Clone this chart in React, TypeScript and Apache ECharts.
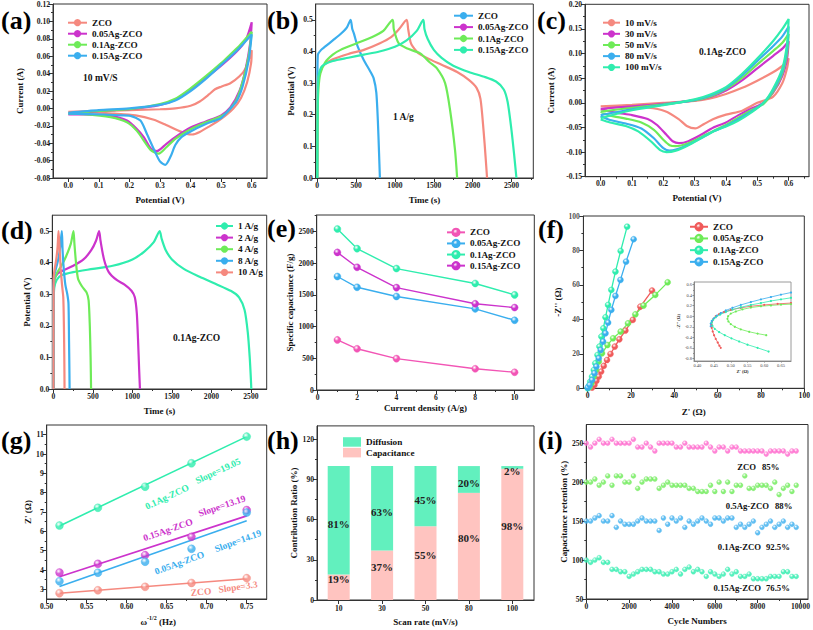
import React, { useEffect, useRef } from "react";
import * as echarts from "echarts";

const FONT = '"Liberation Serif", "Times New Roman", serif';

const SALMON = "#F5897F";
const MAGENTA = "#CC33CC";
const GREEN = "#6EEB58";
const BLUE = "#3AAEEE";
const TEAL = "#2FEDAE";
const PINK = "#F255B5";
const RED = "#F05A5A";
const DIFF = "#62F0BE";
const CAPA = "#FFC4C0";

// ---------- (a) CV at 10 mV/s ----------
const aTicksX = [0, 0.1, 0.2, 0.3, 0.4, 0.5, 0.6];
const aTicksY = [-0.08, -0.06, -0.04, -0.02, 0, 0.02, 0.04, 0.06, 0.08, 0.1, 0.12];
const aZCO = [[0,-0.004],[0.1,-0.003],[0.2,-0.002],[0.3,-0.001],[0.35,0.0],[0.4,0.003],[0.43,0.008],[0.46,0.016],[0.48,0.022],[0.5,0.025],[0.53,0.029],[0.56,0.037],[0.58,0.046],[0.6,0.067],[0.598,0.052],[0.585,0.03],[0.565,0.012],[0.54,0.0],[0.5,-0.012],[0.46,-0.021],[0.43,-0.027],[0.405,-0.03],[0.385,-0.029],[0.37,-0.027],[0.35,-0.024],[0.32,-0.019],[0.28,-0.013],[0.22,-0.008],[0.15,-0.006],[0.05,-0.004],[0,-0.004]];
const a005 = [[0,-0.007],[0.05,-0.005],[0.1,-0.003],[0.2,-0.001],[0.25,0.001],[0.3,0.004],[0.35,0.01],[0.4,0.022],[0.45,0.035],[0.5,0.049],[0.55,0.065],[0.58,0.078],[0.6,0.099],[0.595,0.075],[0.58,0.045],[0.56,0.02],[0.53,0.001],[0.5,-0.008],[0.45,-0.015],[0.4,-0.022],[0.35,-0.033],[0.32,-0.041],[0.29,-0.049],[0.27,-0.046],[0.247,-0.033],[0.225,-0.024],[0.192,-0.014],[0.138,-0.0085],[0.05,-0.007],[0,-0.007]];
const a01 = [[0,-0.006],[0.1,-0.003],[0.2,-0.001],[0.3,0.005],[0.35,0.011],[0.4,0.023],[0.45,0.037],[0.5,0.052],[0.53,0.062],[0.56,0.072],[0.6,0.088],[0.59,0.06],[0.57,0.03],[0.55,0.01],[0.52,-0.004],[0.5,-0.009],[0.45,-0.016],[0.4,-0.024],[0.35,-0.035],[0.32,-0.045],[0.296,-0.052],[0.27,-0.048],[0.247,-0.037],[0.225,-0.026],[0.192,-0.016],[0.138,-0.01],[0.05,-0.0065],[0,-0.006]];
const a015 = [[0,-0.005],[0.1,-0.002],[0.2,0.0],[0.3,0.004],[0.35,0.009],[0.4,0.02],[0.45,0.034],[0.5,0.05],[0.55,0.066],[0.6,0.085],[0.59,0.055],[0.57,0.025],[0.55,0.008],[0.52,-0.004],[0.5,-0.011],[0.45,-0.018],[0.4,-0.0265],[0.37,-0.033],[0.35,-0.042],[0.335,-0.055],[0.317,-0.065],[0.3,-0.061],[0.28,-0.047],[0.258,-0.03],[0.236,-0.014],[0.203,-0.0085],[0.17,-0.008],[0.12,-0.007],[0,-0.006]];

// ---------- (b) GCD at 1 A/g ----------
const bTicksX = [0, 500, 1000, 1500, 2000, 2500];
const bTicksY = [0, 0.1, 0.2, 0.3, 0.4, 0.5];
const bZCO = [[0,0],[3,0.33],[8,0.39],[50,0.405],[100,0.415],[200,0.435],[300,0.455],[380,0.475],[430,0.5],[450,0.472],[470,0.458],[521,0.415],[598,0.373],[684,0.336],[726,0.315],[760,0.27],[780,0.18],[795,0.08],[806,0]];
const b005 = [[0,0],[3,0.25],[10,0.31],[50,0.345],[100,0.36],[200,0.375],[400,0.392],[600,0.405],[800,0.425],[950,0.445],[1050,0.47],[1150,0.5],[1170,0.47],[1200,0.43],[1230,0.415],[1300,0.395],[1450,0.375],[1600,0.358],[1800,0.335],[1950,0.31],[2050,0.285],[2100,0.25],[2140,0.15],[2165,0.07],[2185,0]];
const b01 = [[0,0],[5,0.2],[15,0.28],[40,0.33],[100,0.365],[200,0.39],[300,0.405],[500,0.425],[700,0.445],[850,0.465],[970,0.5],[985,0.47],[1047,0.426],[1150,0.41],[1325,0.394],[1450,0.365],[1538,0.347],[1645,0.3],[1709,0.215],[1773,0.088],[1800,0]];
const b015 = [[0,0],[5,0.25],[15,0.32],[50,0.35],[100,0.36],[200,0.37],[400,0.38],[600,0.39],[800,0.4],[1000,0.415],[1150,0.435],[1280,0.465],[1365,0.5],[1380,0.47],[1420,0.44],[1500,0.405],[1600,0.38],[1750,0.355],[1950,0.335],[2150,0.32],[2300,0.305],[2400,0.28],[2450,0.24],[2500,0.15],[2535,0.07],[2563,0]];

// ---------- (c) CV of 0.1Ag-ZCO ----------
const cTicksX = [0, 0.1, 0.2, 0.3, 0.4, 0.5, 0.6];
const cTicksY = [-0.15, -0.1, -0.05, 0, 0.05, 0.1, 0.15, 0.2];
const c10 = [[0,-0.007],[0.1,-0.004],[0.2,0.0],[0.3,0.004],[0.35,0.009],[0.4,0.018],[0.45,0.03],[0.5,0.045],[0.55,0.062],[0.58,0.075],[0.6,0.09],[0.595,0.07],[0.58,0.04],[0.55,0.012],[0.5,0.0],[0.452,-0.016],[0.4,-0.024],[0.36,-0.033],[0.33,-0.043],[0.302,-0.052],[0.275,-0.047],[0.249,-0.033],[0.206,-0.017],[0.152,-0.01],[0.05,-0.008],[0,-0.007]];
const c30 = [[0,-0.012],[0.1,-0.007],[0.2,-0.002],[0.3,0.005],[0.35,0.012],[0.4,0.025],[0.45,0.045],[0.5,0.07],[0.55,0.095],[0.58,0.11],[0.6,0.125],[0.595,0.09],[0.58,0.055],[0.55,0.02],[0.52,0.0],[0.48,-0.012],[0.44,-0.025],[0.4,-0.04],[0.36,-0.05],[0.32,-0.065],[0.28,-0.078],[0.25,-0.082],[0.23,-0.078],[0.21,-0.065],[0.18,-0.045],[0.15,-0.033],[0.1,-0.025],[0.05,-0.02],[0,-0.013]];
const c50 = [[0,-0.018],[0.1,-0.01],[0.2,-0.003],[0.3,0.005],[0.35,0.013],[0.4,0.028],[0.45,0.05],[0.5,0.078],[0.55,0.105],[0.58,0.122],[0.6,0.14],[0.595,0.1],[0.58,0.06],[0.55,0.022],[0.52,-0.002],[0.48,-0.015],[0.44,-0.03],[0.4,-0.045],[0.36,-0.057],[0.32,-0.07],[0.28,-0.082],[0.24,-0.088],[0.22,-0.086],[0.2,-0.075],[0.17,-0.055],[0.13,-0.04],[0.08,-0.032],[0.03,-0.026],[0,-0.018]];
const c80 = [[0,-0.025],[0.1,-0.013],[0.2,-0.004],[0.3,0.006],[0.35,0.015],[0.4,0.03],[0.45,0.055],[0.5,0.085],[0.55,0.115],[0.58,0.135],[0.6,0.155],[0.595,0.11],[0.58,0.065],[0.55,0.025],[0.52,0.0],[0.48,-0.018],[0.44,-0.033],[0.4,-0.047],[0.36,-0.058],[0.32,-0.072],[0.28,-0.085],[0.24,-0.095],[0.22,-0.097],[0.2,-0.092],[0.17,-0.072],[0.13,-0.052],[0.08,-0.042],[0.03,-0.035],[0,-0.027]];
const c100 = [[0,-0.031],[0.1,-0.015],[0.2,-0.005],[0.3,0.007],[0.35,0.017],[0.4,0.032],[0.45,0.058],[0.5,0.09],[0.55,0.125],[0.58,0.15],[0.6,0.17],[0.595,0.12],[0.58,0.07],[0.55,0.028],[0.52,0.0],[0.48,-0.02],[0.44,-0.036],[0.4,-0.048],[0.36,-0.058],[0.32,-0.072],[0.28,-0.086],[0.24,-0.097],[0.21,-0.1],[0.19,-0.096],[0.16,-0.078],[0.12,-0.058],[0.08,-0.047],[0.03,-0.04],[0,-0.034]];

// ---------- (d) GCD of 0.1Ag-ZCO ----------
const dTicksX = [0, 500, 1000, 1500, 2000, 2500];
const dTicksY = [0, 0.1, 0.2, 0.3, 0.4, 0.5];
const d1 = [[0,0],[3,0.28],[10,0.32],[40,0.345],[100,0.36],[250,0.37],[500,0.38],[750,0.39],[1000,0.41],[1150,0.435],[1270,0.465],[1345,0.5],[1370,0.475],[1420,0.44],[1500,0.41],[1650,0.38],[1850,0.355],[2050,0.333],[2250,0.31],[2350,0.29],[2420,0.25],[2460,0.18],[2485,0.1],[2500,0.03],[2505,0]];
const d2 = [[0,0],[2,0.3],[10,0.345],[50,0.365],[120,0.375],[250,0.39],[380,0.41],[480,0.44],[540,0.47],[578,0.5],[595,0.47],[640,0.41],[700,0.37],[800,0.345],[900,0.33],[990,0.31],[1030,0.29],[1055,0.24],[1070,0.16],[1085,0.06],[1095,0]];
const d4 = [[0,0],[2,0.29],[10,0.34],[40,0.365],[100,0.39],[160,0.42],[220,0.46],[253,0.5],[265,0.46],[285,0.4],[310,0.35],[360,0.325],[420,0.305],[445,0.28],[460,0.2],[470,0.1],[476,0]];
const d8 = [[0,0],[2,0.32],[10,0.36],[30,0.38],[60,0.41],[85,0.45],[106,0.5],[115,0.44],[130,0.38],[150,0.33],[175,0.3],[190,0.27],[197,0.15],[202,0.05],[204,0]];
const d10 = [[0,0],[2,0.35],[15,0.38],[35,0.41],[52,0.45],[64,0.5],[76,0.45],[92,0.38],[108,0.33],[124,0.29],[132,0.2],[137,0.1],[140,0]];

// ---------- (e) specific capacitance ----------
const eTicksX = [0, 2, 4, 6, 8, 10];
const eTicksY = [0, 500, 1000, 1500, 2000, 2500];
const eDensity = [1, 2, 4, 8, 10];
const eZCO = [790, 650, 495, 335, 280];
const e005 = [1790, 1620, 1475, 1280, 1100];
const e01 = [2540, 2230, 1915, 1680, 1500];
const e015 = [2170, 1935, 1615, 1360, 1300];

// ---------- (f) Nyquist ----------
const fTicksX = [0, 20, 40, 60, 80, 100];
const fTicksY = [0, 20, 40, 60, 80, 100];
const fZCO = [[2,0.4],[3.1,1.9],[4,4.3],[5.1,6.8],[6.2,9.7],[7.4,13],[8.9,16.4],[10.5,19.9],[12.5,24.2],[14.6,28.4],[17.4,33.5],[20.8,39.7],[24.3,47.4],[29.7,56.7]];
const f005 = [[0.8,0.6],[1.7,2.9],[2.8,6.8],[3.8,10.6],[5.1,15.5],[6.6,20.3],[9.1,25.1],[11.7,29],[15.2,32.9],[18.6,37.7],[22,42.9],[25.8,48],[31.2,54.2],[36.9,61.5]];
const f01 = [[0,0],[0.5,1.4],[1.2,3.9],[2,6.8],[2.8,10.6],[3.5,14.5],[4.5,19.3],[5.4,24.2],[6.3,30],[7.2,34.8],[8.2,41.2],[9.4,48.4],[10.9,57.1],[12.8,67.7],[15.2,79.7],[18.2,93.8]];
const f015 = [[0,0.4],[0.9,1.9],[2,4.8],[3.1,8.7],[4,12.6],[5.1,17.4],[6,22.2],[7.1,27.1],[8.2,31.9],[9.4,38.1],[10.9,45.5],[12.8,53.6],[15.1,62.9],[17.7,73.5],[21.2,86.5]];
// inset
const fiTicksX = [0.4, 0.45, 0.5, 0.55, 0.6, 0.65];
const fiTicksY = [-0.8, -0.6, -0.4, -0.2, 0, 0.2, 0.4, 0.6];
const fiZCO = [[0.68,0.25],[0.64,0.235],[0.6,0.215],[0.56,0.19],[0.53,0.16],[0.5,0.12],[0.48,0.08],[0.465,0.04],[0.455,0.0],[0.448,-0.05],[0.444,-0.1],[0.442,-0.16],[0.443,-0.22],[0.446,-0.29],[0.45,-0.36],[0.455,-0.43],[0.461,-0.5],[0.466,-0.56],[0.47,-0.6]];
const fi005 = [[0.68,0.23],[0.65,0.22],[0.62,0.205],[0.59,0.19],[0.56,0.165],[0.535,0.13],[0.515,0.09],[0.5,0.05],[0.492,0.0],[0.49,-0.05],[0.493,-0.1],[0.5,-0.15],[0.512,-0.2],[0.53,-0.25],[0.555,-0.295],[0.58,-0.33],[0.606,-0.36]];
const fi01 = [[0.68,0.35],[0.65,0.32],[0.62,0.29],[0.59,0.25],[0.56,0.215],[0.53,0.17],[0.505,0.125],[0.485,0.08],[0.468,0.03],[0.455,-0.02],[0.447,-0.07],[0.443,-0.12],[0.445,-0.18],[0.452,-0.24],[0.465,-0.3],[0.482,-0.36],[0.502,-0.42],[0.525,-0.48],[0.55,-0.54],[0.58,-0.6],[0.613,-0.67]];
const fi015 = [[0.68,0.45],[0.65,0.41],[0.62,0.365],[0.59,0.32],[0.56,0.27],[0.53,0.215],[0.505,0.16],[0.485,0.11],[0.47,0.06],[0.458,0.01],[0.449,-0.04],[0.443,-0.09],[0.44,-0.14],[0.44,-0.19]];

// ---------- (g) Z' vs w^-1/2 ----------
const gTicksX = [0.5, 0.55, 0.6, 0.65, 0.7, 0.75];
const gTicksY = [3, 4, 5, 6, 7, 8, 9, 10, 11];
const gOmega = [0.516, 0.564, 0.623, 0.681, 0.75];
const g01 = [6.3, 7.22, 8.31, 9.52, 10.9];
const g015 = [3.87, 4.32, 4.77, 5.72, 7.1];
const g005 = [3.42, 3.86, 4.43, 5.1, 6.97];
const gZCO = [2.8, 2.95, 3.13, 3.33, 3.58];
const gFitOmega = [0.516, 0.75];
const gFit01 = [6.28, 10.9];
const gFit015 = [3.65, 6.8];
const gFit005 = [3.15, 6.55];
const gFitZCO = [2.8, 3.55];

// ---------- (h) contribution ratio ----------
const hRates = ["10", "30", "50", "80", "100"];
const hTicksY = [0, 30, 60, 90, 120];
const hCapacitance = [19, 37, 55, 80, 98];
const hDiffusion = [81, 63, 45, 20, 2];

// ---------- (i) cycling ----------
const iTicksX = [0, 2000, 4000, 6000, 8000, 10000];
const iTicksY = [50, 100, 150, 200, 250];
const iCycles = [0,200,400,600,800,1000,1200,1400,1600,1800,2000,2200,2400,2600,2800,3000,3200,3400,3600,3800,4000,4200,4400,4600,4800,5000,5200,5400,5600,5800,6000,6200,6400,6600,6800,7000,7200,7400,7600,7800,8000,8200,8400,8600,8800,9000,9200,9400,9600,9800];
const iZCO = [250,245,250,255,250,250,255,250,250,250,250,255,245,245,250,245,240,250,250,250,250,245,245,250,245,245,245,245,250,245,240,245,245,240,245,245,240,240,240,240,240,240,236,240,240,240,240,236,240,240];
const i05 = [200,200,204,196,200,208,196,208,208,200,200,208,192,200,204,204,204,192,196,200,196,196,196,196,192,192,188,188,188,196,188,200,188,200,188,196,196,208,192,192,196,196,196,192,200,184,192,196,188,196];
const i01 = [150,150,154,157,150,150,157,142,150,146,146,146,150,154,150,150,150,138,154,146,154,150,154,142,150,146,150,154,150,146,154,154,150,154,154,142,146,142,146,150,135,142,146,150,142,146,150,142,146,142];
const i015 = [100,97,100,103,97,97,88,88,85,85,79,82,85,88,88,88,85,85,82,82,85,88,82,88,91,85,88,85,79,85,82,79,82,88,82,85,79,79,82,76,76,76,76,79,79,79,85,85,79,79];

const AX = "#333";
const tickFont = { fontFamily: FONT, fontWeight: "bold", fontSize: 7.6, color: "#1a1a1a" };
const nameFont = { fontFamily: FONT, fontWeight: "bold", fontSize: 9, color: "#111" };

function minorsOf(majors: number[], min: number, max: number) {
  const out: number[] = [];
  for (let i = 0; i < majors.length - 1; i++) out.push((majors[i] + majors[i + 1]) / 2);
  const step = majors[1] - majors[0];
  const lo = majors[0] - step / 2;
  const hi = majors[majors.length - 1] + step / 2;
  if (lo > min + 1e-9) out.unshift(lo);
  if (hi < max - 1e-9) out.push(hi);
  return out;
}

function ball(c: string) {
  return {
    type: "radial", x: 0.38, y: 0.32, r: 0.75,
    colorStops: [{ offset: 0, color: "#ffffff" }, { offset: 0.45, color: c }, { offset: 1, color: c }],
  };
}

const txt = (text: string, x: number, y: number, color = "#111", size = 9.5, rotDeg = 0, align = "left") => ({
  type: "text", x, y, rotation: (rotDeg * Math.PI) / 180, silent: true, z: 100,
  style: { text, fill: color, fontFamily: FONT, fontWeight: "bold", fontSize: size, align, verticalAlign: "middle", textAlign: align, textVerticalAlign: "middle" },
});

function buildOption() {
  const grid: any[] = [];
  const xAxis: any[] = [];
  const yAxis: any[] = [];
  const series: any[] = [];
  const legend: any[] = [];
  const graphic: any[] = [];

  const addGrid = (left: number, top: number, width: number, height: number, extra: any = {}) => {
    grid.push({ left, top, width, height, show: true, borderColor: AX, borderWidth: 1, backgroundColor: "transparent", ...extra });
    return grid.length - 1;
  };

  const addAxis = (list: any[], gi: number, dim: "x" | "y", cfg: any) => {
    const pos = dim === "x" ? "bottom" : "left";
    const col = cfg.color || AX;
    list.push({
      type: "value", gridIndex: gi, min: cfg.min, max: cfg.max, position: pos,
      name: cfg.name, nameLocation: "middle", nameGap: cfg.nameGap,
      nameTextStyle: { ...nameFont, ...(cfg.nameStyle || {}) },
      axisLine: { show: true, onZero: false, lineStyle: { color: col, width: 1 } },
      axisTick: { show: true, inside: false, length: cfg.tickLen ?? 4, customValues: cfg.majors.slice(), lineStyle: { color: col, width: 1 } },
      axisLabel: cfg.noLabels ? { show: false } : {
        show: true, customValues: cfg.majors.slice(), formatter: cfg.fmt, margin: cfg.margin ?? 3,
        hideOverlap: false, showMinLabel: true, showMaxLabel: true,
        ...tickFont, ...(cfg.labelStyle || {}),
      },
      splitLine: { show: false },
      silent: true,
    });
    const idx = list.length - 1;
    const minors = minorsOf(cfg.majors, cfg.min, cfg.max);
    list.push({
      type: "value", gridIndex: gi, min: cfg.min, max: cfg.max, position: pos,
      axisLine: { show: false, onZero: false },
      axisTick: { show: true, inside: false, length: cfg.minorLen ?? 2, customValues: minors, lineStyle: { color: col, width: 1 } },
      axisLabel: { show: false },
      splitLine: { show: false },
      silent: true,
    });
    return idx;
  };

  const curve = (name: string, xi: number, yi: number, data: number[][], color: string, width = 2.2) => ({
    type: "line", name, xAxisIndex: xi, yAxisIndex: yi, data, symbol: "none", showSymbol: false,
    smooth: 0.25, lineStyle: { color, width }, itemStyle: { color }, silent: true,
  });

  const dotted = (name: string, xi: number, yi: number, data: number[][], color: string, size: number, width: number) => ({
    type: "line", name, xAxisIndex: xi, yAxisIndex: yi, data, symbol: "circle", symbolSize: size, showSymbol: true,
    lineStyle: { color, width }, itemStyle: { color: ball(color), borderColor: color, borderWidth: 0.4 }, silent: true,
  });

  const mkLegend = (left: number, top: number, pitch: number, itemWidth: number, data: any[], extra: any = {}) => ({
    show: true, left, top, orient: "vertical", padding: 0, itemGap: 0, itemWidth, itemHeight: 9,
    selectedMode: false, data,
    formatter: (n: string) => n.slice(n.indexOf("|") + 1),
    textStyle: { fontFamily: FONT, fontWeight: "bold", fontSize: 9.2, color: "#111", lineHeight: pitch },
    ...extra,
  });

  const panelLabel = (text: string, x: number, y: number) => ({
    type: "text", x, y, silent: true, z: 50,
    style: { text, fill: "#000", fontFamily: FONT, fontWeight: "bold", fontSize: 26, align: "left", verticalAlign: "top", textAlign: "left", textVerticalAlign: "top" },
  });

  const f0 = (v: number) => String(Math.round(v));
  const f1 = (v: number) => v.toFixed(1);
  const f2 = (v: number) => v.toFixed(2);

  // ===== (a) =====
  const gA = addGrid(53, 4, 214, 174);
  const xA = addAxis(xAxis, gA, "x", { min: -0.05, max: 0.65, majors: aTicksX, fmt: f1, name: "Potential (V)", nameGap: 17 });
  const yA = addAxis(yAxis, gA, "y", { min: -0.08, max: 0.12, majors: aTicksY, fmt: f2, name: "Current (A)", nameGap: 29 });
  series.push(curve("a|ZCO", xA, yA, aZCO, SALMON));
  series.push(curve("a|0.05Ag-ZCO", xA, yA, a005, MAGENTA));
  series.push(curve("a|0.1Ag-ZCO", xA, yA, a01, GREEN));
  series.push(curve("a|0.15Ag-ZCO", xA, yA, a015, BLUE));
  legend.push(mkLegend(67, 17.2, 11, 19, ["a|ZCO", "a|0.05Ag-ZCO", "a|0.1Ag-ZCO", "a|0.15Ag-ZCO"]));
  graphic.push(txt("10 mV/S", 83, 78));

  // ===== (b) =====
  const gB = addGrid(315.7, 4, 217.6, 174);
  const xB = addAxis(xAxis, gB, "x", { min: -20, max: 2780, majors: bTicksX, fmt: f0, name: "Time (s)", nameGap: 17 });
  const yB = addAxis(yAxis, gB, "y", { min: 0, max: 0.55, majors: bTicksY, fmt: f1, name: "Potential (V)", nameGap: 20 });
  series.push(curve("b|ZCO", xB, yB, bZCO, BLUE));
  series.push(curve("b|0.05Ag-ZCO", xB, yB, b005, SALMON));
  series.push(curve("b|0.1Ag-ZCO", xB, yB, b01, GREEN));
  series.push(curve("b|0.15Ag-ZCO", xB, yB, b015, TEAL));
  legend.push(mkLegend(453, 10, 11.4, 19, [
    "b|ZCO",
    { name: "b|0.05Ag-ZCO", itemStyle: { color: MAGENTA }, lineStyle: { color: MAGENTA } },
    "b|0.1Ag-ZCO",
    "b|0.15Ag-ZCO",
  ]));
  graphic.push(txt("1 A/g", 393, 117));

  // ===== (c) =====
  const gC = addGrid(585, 4.3, 224, 172.4);
  const xC = addAxis(xAxis, gC, "x", { min: -0.05, max: 0.665, majors: cTicksX, fmt: f1, name: "Potential (V)", nameGap: 17 });
  const yC = addAxis(yAxis, gC, "y", { min: -0.15, max: 0.2, majors: cTicksY, fmt: f2, name: "Current (A)", nameGap: 30 });
  series.push(curve("c|10 mV/s", xC, yC, c10, SALMON));
  series.push(curve("c|30 mV/s", xC, yC, c30, MAGENTA));
  series.push(curve("c|50 mV/s", xC, yC, c50, GREEN));
  series.push(curve("c|80 mV/s", xC, yC, c80, BLUE));
  series.push(curve("c|100 mV/s", xC, yC, c100, TEAL));
  legend.push(mkLegend(602, 17.1, 11.15, 17, ["c|10 mV/s", "c|30 mV/s", "c|50 mV/s", "c|80 mV/s", "c|100 mV/s"]));
  graphic.push(txt("0.1Ag-ZCO", 699, 52));

  // ===== (d) =====
  const gD = addGrid(52.3, 215.2, 214.4, 173.8);
  const xD = addAxis(xAxis, gD, "x", { min: -15, max: 2700, majors: dTicksX, fmt: f0, name: "Time (s)", nameGap: 17 });
  const yD = addAxis(yAxis, gD, "y", { min: 0, max: 0.55, majors: dTicksY, fmt: f1, name: "Potential (V)", nameGap: 21 });
  series.push(curve("d|1 A/g", xD, yD, d1, TEAL));
  series.push(curve("d|2 A/g", xD, yD, d2, MAGENTA));
  series.push(curve("d|4 A/g", xD, yD, d4, GREEN));
  series.push(curve("d|8 A/g", xD, yD, d8, BLUE));
  series.push(curve("d|10 A/g", xD, yD, d10, SALMON));
  legend.push(mkLegend(215, 220.2, 11.6, 17, ["d|1 A/g", "d|2 A/g", "d|4 A/g", "d|8 A/g", "d|10 A/g"]));
  graphic.push(txt("0.1Ag-ZCO", 173, 338));

  // ===== (e) =====
  const gE = addGrid(316.7, 215, 217.6, 175);
  const xE = addAxis(xAxis, gE, "x", { min: -0.05, max: 11, majors: eTicksX, fmt: f0, name: "Current density (A/g)", nameGap: 13 });
  const yE = addAxis(yAxis, gE, "y", { min: 0, max: 2760, majors: eTicksY, fmt: f0, name: "Specific capacitance (F/g)", nameGap: 21 });
  const zipE = (ys: number[]) => eDensity.map((x, k) => [x, ys[k]]);
  series.push(dotted("e|ZCO", xE, yE, zipE(eZCO), PINK, 7, 1.4));
  series.push(dotted("e|0.05Ag-ZCO", xE, yE, zipE(e005), BLUE, 7, 1.4));
  series.push(dotted("e|0.1Ag-ZCO", xE, yE, zipE(e01), TEAL, 7, 1.4));
  series.push(dotted("e|0.15Ag-ZCO", xE, yE, zipE(e015), MAGENTA, 7, 1.4));
  legend.push(mkLegend(446, 226.8, 11.1, 18, ["e|ZCO", "e|0.05Ag-ZCO", "e|0.1Ag-ZCO", "e|0.15Ag-ZCO"]));

  // ===== (f) =====
  const FXMIN = -2;
  const gF = addGrid(583.4, 216, 221.6, 172.3);
  const xF = addAxis(xAxis, gF, "x", { min: FXMIN, max: 100, majors: fTicksX, fmt: f0, name: "Z' (Ω)", nameGap: 19 });
  const yF = addAxis(yAxis, gF, "y", { min: 0, max: 100, majors: fTicksY, fmt: f0, name: "-Z'' (Ω)", nameGap: 21, noLabels: true });
  // y tick labels of (f) carried by label-only points on the y axis line
  series.push({
    type: "scatter", name: "fticks", xAxisIndex: xF, yAxisIndex: yF,
    data: fTicksY.map((v) => [FXMIN, v]), symbol: "circle", symbolSize: 1,
    itemStyle: { color: "rgba(0,0,0,0)" }, clip: false, silent: true, z: 20,
    label: { show: true, position: "left", distance: 3, formatter: (p: any) => String(p.value[1]), ...tickFont },
  });
  series.push(dotted("f|ZCO", xF, yF, fZCO, RED, 6, 1.3));
  series.push(dotted("f|0.05Ag-ZCO", xF, yF, f005, GREEN, 6, 1.3));
  series.push(dotted("f|0.1Ag-ZCO", xF, yF, f01, TEAL, 6, 1.3));
  series.push(dotted("f|0.15Ag-ZCO", xF, yF, f015, BLUE, 6, 1.3));
  legend.push(mkLegend(689, 220.9, 11.7, 18, ["f|ZCO", "f|0.05Ag-ZCO", "f|0.1Ag-ZCO", "f|0.15Ag-ZCO"]));
  // inset
  const gFi = addGrid(694, 282, 97, 79, { borderColor: "#9a9a9a", backgroundColor: "#ffffff" });
  const smallLab = { fontSize: 4.5, fontWeight: "normal", color: "#444" };
  const smallName = { fontSize: 4.6, fontWeight: "bold", color: "#333" };
  const xFi = addAxis(xAxis, gFi, "x", { min: 0.39, max: 0.68, majors: fiTicksX, fmt: f2, name: "Z' (Ω)", nameGap: 8, color: "#888", tickLen: 1.5, minorLen: 1, margin: 2, labelStyle: smallLab, nameStyle: smallName });
  const yFi = addAxis(yAxis, gFi, "y", { min: -0.85, max: 0.65, majors: fiTicksY, fmt: f1, name: "-Z'' (Ω)", nameGap: 9, color: "#888", tickLen: 1.5, minorLen: 1, margin: 2, labelStyle: smallLab, nameStyle: smallName });
  const inset = (name: string, data: number[][], color: string) => ({
    type: "line", name, xAxisIndex: xFi, yAxisIndex: yFi, data, symbol: "circle", symbolSize: 2.2, showSymbol: true,
    lineStyle: { color, width: 0.8 }, itemStyle: { color }, silent: true, z: 5,
  });
  series.push(inset("fi|ZCO", fiZCO, RED));
  series.push(inset("fi|0.05Ag-ZCO", fi005, GREEN));
  series.push(inset("fi|0.1Ag-ZCO", fi01, TEAL));
  series.push(inset("fi|0.15Ag-ZCO", fi015, BLUE));

  // ===== (g) =====
  const gG = addGrid(46.7, 425, 220, 174);
  const xG = addAxis(xAxis, gG, "x", { min: 0.5, max: 0.775, majors: gTicksX, fmt: f2, name: "", nameGap: 15 });
  const yG = addAxis(yAxis, gG, "y", { min: 2.5, max: 11.5, majors: gTicksY, fmt: f0, name: "Z' (Ω)", nameGap: 5 });
  const fitLine = (name: string, ys: number[], color: string) => ({
    type: "line", name, xAxisIndex: xG, yAxisIndex: yG, data: gFitOmega.map((x, k) => [x, ys[k]]),
    symbol: "none", showSymbol: false, lineStyle: { color, width: 1.6 }, silent: true, z: 2,
  });
  const pts = (name: string, ys: number[], color: string) => ({
    type: "scatter", name, xAxisIndex: xG, yAxisIndex: yG, data: gOmega.map((x, k) => [x, ys[k]]),
    symbol: "circle", symbolSize: 8, itemStyle: { color: ball(color), borderColor: color, borderWidth: 0.4 }, silent: true, z: 3,
  });
  series.push(fitLine("gl|0.1Ag-ZCO", gFit01, TEAL), pts("g|0.1Ag-ZCO", g01, TEAL));
  series.push(fitLine("gl|0.15Ag-ZCO", gFit015, MAGENTA), pts("g|0.15Ag-ZCO", g015, MAGENTA));
  series.push(fitLine("gl|0.05Ag-ZCO", gFit005, BLUE), pts("g|0.05Ag-ZCO", g005, BLUE));
  series.push(fitLine("gl|ZCO", gFitZCO, SALMON), pts("g|ZCO", gZCO, SALMON));
  graphic.push(txt("0.1Ag-ZCO", 167, 497, TEAL, 9.5, 25, "center"));
  graphic.push(txt("Slope=19.05", 218, 471, TEAL, 9.5, 25, "center"));
  graphic.push(txt("Slope=13.19", 222, 506, MAGENTA, 9.5, 19, "center"));
  graphic.push(txt("0.15Ag-ZCO", 168, 530, MAGENTA, 9.5, 19, "center"));
  graphic.push(txt("0.05Ag-ZCO", 179.5, 563, BLUE, 9.5, 20, "center"));
  graphic.push(txt("Slope=14.19", 238, 541, BLUE, 9.5, 20, "center"));
  graphic.push(txt("ZCO", 201, 592, SALMON, 9.5, 5, "center"));
  graphic.push(txt("Slope=3.3", 238, 587, SALMON, 9.5, 8, "center"));
  graphic.push(txt("ω", 140.5, 622, "#111", 9));
  graphic.push(txt("-1/2", 147, 618, "#111", 6));
  graphic.push(txt("(Hz)", 159, 622, "#111", 9));

  // ===== (h) =====
  const gH = addGrid(317, 425.9, 217, 174.1);
  xAxis.push({
    type: "category", gridIndex: gH, data: hRates, position: "bottom",
    name: "Scan rate (mV/s)", nameLocation: "middle", nameGap: 17, nameTextStyle: nameFont,
    axisLine: { show: true, onZero: false, lineStyle: { color: AX, width: 1 } },
    axisTick: { show: true, alignWithLabel: true, length: 4, lineStyle: { color: AX } },
    axisLabel: { ...tickFont, margin: 4 }, splitLine: { show: false }, silent: true,
  });
  const xH = xAxis.length - 1;
  const yH = addAxis(yAxis, gH, "y", { min: 0, max: 130, majors: hTicksY, fmt: f0, name: "Contribution Ratio (%)", nameGap: 18 });
  const barLabel = (dy: number) => ({ show: true, position: "inside", offset: [0, dy], formatter: (p: any) => p.value + "%", fontFamily: FONT, fontWeight: "bold", fontSize: 11, color: "#222" });
  series.push({ type: "bar", name: "h|Capacitance", xAxisIndex: xH, yAxisIndex: yH, stack: "h", data: hCapacitance, barWidth: 22, itemStyle: { color: CAPA }, label: barLabel(-8.5), silent: true });
  series.push({ type: "bar", name: "h|Diffusion", xAxisIndex: xH, yAxisIndex: yH, stack: "h", data: hDiffusion, barWidth: 22, itemStyle: { color: DIFF }, label: barLabel(3.5), silent: true });
  legend.push(mkLegend(343, 436.6, 10.7, 18, [{ name: "h|Diffusion", icon: "rect" }, { name: "h|Capacitance", icon: "rect" }], { itemHeight: 9.5 }));

  // ===== (i) =====
  const gI = addGrid(586.3, 424.5, 222.6, 174.5);
  const xI = addAxis(xAxis, gI, "x", { min: 0, max: 10350, majors: iTicksX, fmt: f0, name: "Cycle Numbers", nameGap: 17 });
  const yI = addAxis(yAxis, gI, "y", { min: 50, max: 274, majors: iTicksY, fmt: f0, name: "Capacitance retention (%)", nameGap: 15 });
  const dots = (name: string, ys: number[], color: string) => ({
    type: "scatter", name, xAxisIndex: xI, yAxisIndex: yI, data: iCycles.map((x, k) => [x, ys[k]]),
    symbol: "circle", symbolSize: 5, itemStyle: { color: ball(color), borderColor: color, borderWidth: 0.3 }, silent: true,
  });
  series.push(dots("i|ZCO", iZCO, "#FF66CC"));
  series.push(dots("i|0.5Ag-ZCO", i05, GREEN));
  series.push(dots("i|0.1Ag-ZCO", i01, BLUE));
  series.push(dots("i|0.15Ag-ZCO", i015, TEAL));
  graphic.push(txt("ZCO", 756, 467, "#111", 8.7, 0, "right"));
  graphic.push(txt("85%", 762, 467, "#111", 8.7));
  graphic.push(txt("0.5Ag-ZCO", 769, 506, "#111", 8.7, 0, "right"));
  graphic.push(txt("88%", 775, 506, "#111", 8.7));
  graphic.push(txt("0.1Ag-ZCO", 761, 547, "#111", 8.7, 0, "right"));
  graphic.push(txt("92.5%", 766, 547, "#111", 8.7));
  graphic.push(txt("0.15Ag-ZCO", 761, 588, "#111", 8.7, 0, "right"));
  graphic.push(txt("76.5%", 766, 588, "#111", 8.7));

  // panel labels
  graphic.push(panelLabel("(a)", 1, 7));
  graphic.push(panelLabel("(b)", 267, 7));
  graphic.push(panelLabel("(c)", 537, 7));
  graphic.push(panelLabel("(d)", 1, 217));
  graphic.push(panelLabel("(e)", 267, 215));
  graphic.push(panelLabel("(f)", 538, 216));
  graphic.push(panelLabel("(g)", 1, 427));
  graphic.push(panelLabel("(h)", 267, 427));
  graphic.push(panelLabel("(i)", 538, 427));

  return {
    animation: false,
    backgroundColor: "#ffffff",
    textStyle: { fontFamily: FONT },
    grid, xAxis, yAxis, series, legend, graphic,
  };
}

export default function App() {
  const ref = useRef<HTMLDivElement>(null);
  useEffect(() => {
    if (!ref.current) return;
    const chart = echarts.init(ref.current, null, { renderer: "svg", width: 813, height: 630 });
    chart.setOption(buildOption() as any);
    return () => chart.dispose();
  }, []);
  return (
    <div
      ref={ref}
      style={{ position: "absolute", left: 0, top: 0, width: 813, height: 630, background: "#fff" }}
    />
  );
}
